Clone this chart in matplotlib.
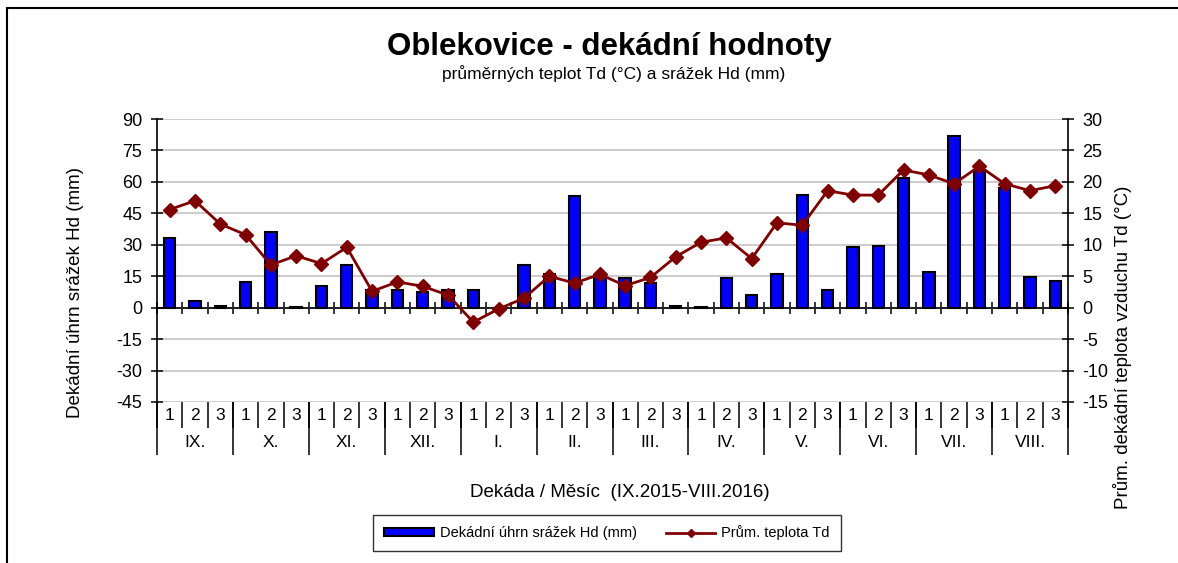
import numpy as np
import matplotlib
matplotlib.use("Agg")
import matplotlib.pyplot as plt
from matplotlib.patches import Rectangle
from matplotlib.lines import Line2D
from matplotlib.patches import Patch

plt.rcParams['font.family'] = ['Liberation Sans', 'DejaVu Sans']
plt.rcParams['axes.unicode_minus'] = False

# decade precipitation totals (mm), IX.2015 - VIII.2016
precip = [33.2, 3.0, 0.6, 12.2, 35.9, 0.5, 10.5, 20.3, 8.5, 8.6, 7.6, 8.6,
          8.4, 0.0, 20.2, 16.0, 53.5, 15.0, 14.1, 11.7, 1.0, 0.5, 14.1, 6.2,
          16.0, 53.8, 8.6, 28.9, 29.5, 61.7, 17.0, 81.9, 65.5, 57.0, 14.6, 12.9]
# decade mean air temperature (°C)
temp = [15.6, 17.0, 13.3, 11.6, 6.8, 8.25, 7.0, 9.6, 2.6, 4.1, 3.4, 2.0,
        -2.3, -0.2, 1.5, 5.0, 3.9, 5.3, 3.5, 4.8, 8.1, 10.4, 11.1, 7.8,
        13.5, 13.1, 18.6, 17.9, 17.9, 21.9, 21.1, 19.7, 22.5, 19.7, 18.6, 19.4]
months = ['IX.', 'X.', 'XI.', 'XII.', 'I.', 'II.', 'III.', 'IV.', 'V.', 'VI.', 'VII.', 'VIII.']
decades = ['1', '2', '3']

n = len(precip)
x = np.arange(n)
bounds = np.arange(n + 1) - 0.5
month_bounds = bounds[::3]
month_centers = x[1::3]

W, H = 1178, 563
fig = plt.figure(figsize=(W / 100, H / 100), dpi=100)
ax = fig.add_axes([157 / W, 1 - 402 / H, (1068 - 157) / W, (402 - 119) / H])

ax.bar(x, precip, width=0.45, color='#0000ff', edgecolor='black', linewidth=1.5, zorder=2)
ax.set_xlim(-0.5, n - 0.5)
ax.set_ylim(-45, 90)
ax.set_yticks(np.arange(-45, 91, 15))
ax.yaxis.grid(True, color='#c8c8c8', linewidth=1.3)
ax.set_axisbelow(True)

for s in ['top', 'right']:
    ax.spines[s].set_visible(False)
ax.spines['left'].set_linewidth(1.2)
ax.spines['bottom'].set_position(('data', 0))
ax.spines['bottom'].set_linewidth(1.2)
ax.set_xticks(bounds)
ax.tick_params(axis='x', direction='inout', length=8, width=1.1, labelbottom=False)
ax.tick_params(axis='y', direction='inout', length=9, width=1.1, labelsize=13, pad=6)

# decade labels
sec1 = ax.secondary_xaxis('bottom')
sec1.spines['bottom'].set_visible(False)
sec1.set_xticks(bounds, labels=[''] * len(bounds))
sec1.set_xticks(x, labels=decades * 12, minor=True)
sec1.tick_params(axis='x', which='major', direction='out', length=19, width=1.1)
sec1.tick_params(axis='x', which='minor', length=0, pad=4, labelsize=12.5)

# month labels
sec2 = ax.secondary_xaxis('bottom')
sec2.spines['bottom'].set_visible(False)
sec2.set_xticks(month_bounds, labels=[''] * len(month_bounds))
sec2.set_xticks(month_centers, labels=months, minor=True)
sec2.tick_params(axis='x', which='major', direction='out', length=38, width=1.1)
sec2.tick_params(axis='x', which='minor', length=0, pad=24, labelsize=12.5)

ax.set_ylabel('Dekádní úhrn srážek Hd (mm)', fontsize=13.5)
ax.yaxis.set_label_coords((84 - 157) / 911, (402 - 293) / 283)
ax.set_xlabel('Dekáda / Měsíc  (IX.2015-VIII.2016)', fontsize=13.5)
ax.xaxis.set_label_coords((620 - 157) / 911, (402 - 484) / 283)

ax2 = ax.twinx()
ax2.plot(x, temp, color='#800000', linewidth=2, marker='D', markersize=7, zorder=3)
ax2.set_ylim(-15, 30)
ax2.set_yticks(np.arange(-15, 31, 5))
for s in ['top', 'left', 'bottom']:
    ax2.spines[s].set_visible(False)
ax2.spines['right'].set_linewidth(1.2)
ax2.tick_params(axis='y', direction='inout', length=9, width=1.1, labelsize=13, pad=6)
ax2.set_ylabel('Prům. dekádní teplota vzduchu Td (°C)', fontsize=13.5, rotation=90)
ax2.yaxis.set_label_coords((1113 - 157) / 911, (402 - 347) / 283)

fig.text(609 / W, 1 - 47 / H, 'Oblekovice - dekádní hodnoty', fontsize=22.5,
         fontweight='bold', ha='center', va='center')
fig.text(614 / W, 1 - 74 / H, 'průměrných teplot Td (°C) a srážek Hd (mm)', fontsize=12.5,
         ha='center', va='center')

handles = [Patch(facecolor='#0000ff', edgecolor='black', linewidth=1.5),
           Line2D([], [], color='#800000', linewidth=2, marker='D', markersize=4)]
leg = fig.legend(handles, ['Dekádní úhrn srážek Hd (mm)', 'Prům. teplota Td'],
                 loc='center', bbox_to_anchor=(607 / W, 1 - 533 / H), ncol=2,
                 fontsize=10.5, frameon=True, fancybox=False, edgecolor='black',
                 handlelength=3.4, handleheight=0.5, handletextpad=0.4,
                 columnspacing=2.0, borderpad=0.75)
leg.get_frame().set_linewidth(1.0)

fig.add_artist(Rectangle((7 / W, -0.1), 1.2, 1 - 8 / H + 0.1, transform=fig.transFigure,
                         fill=False, edgecolor='black', linewidth=1.5))

fig.savefig('out.png', dpi=100)
